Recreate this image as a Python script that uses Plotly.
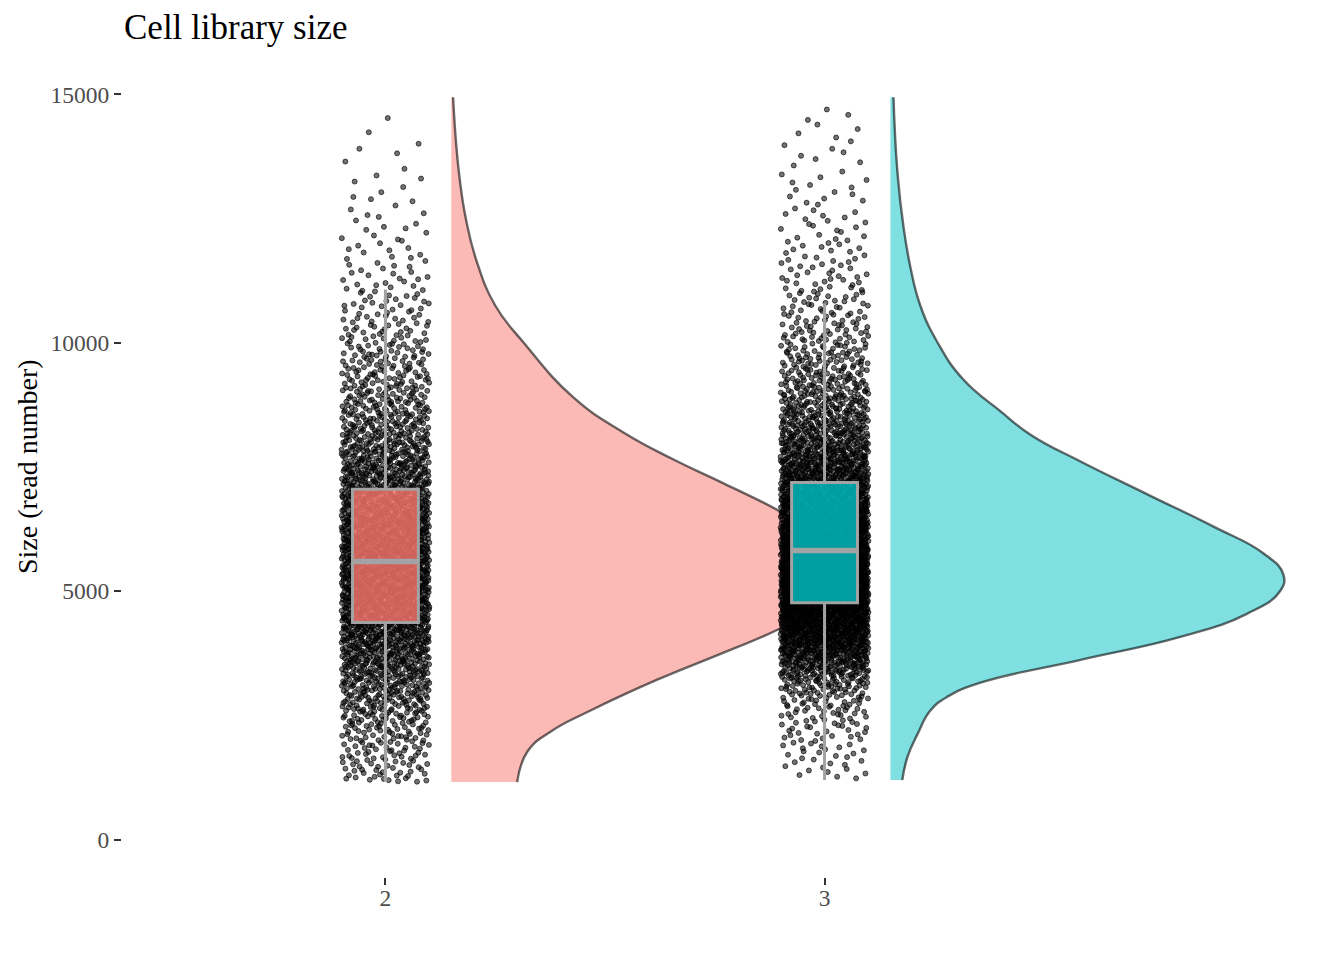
import numpy as np
import plotly.graph_objects as go

# ---------------- data ----------------
groups = ["2", "3"]
group_pos = [2, 3]
fill_rgb = [(248, 118, 109), (0, 191, 196)]
n_cells = [2600, 3900]

# half-violin outline: read-number value and half-width (x units)
g2_dens_y = [1160, 1770, 2175, 2600, 3220, 3765, 4250, 4800, 5400, 6000, 6605,
             7170, 7650, 8195, 8900, 10000, 10750, 11660, 12500, 13300, 14000, 14940]
g2_dens_w = [0.150, 0.173, 0.226, 0.317, 0.469, 0.620, 0.749, 0.860, 0.890, 0.860, 0.749,
             0.620, 0.506, 0.392, 0.278, 0.165, 0.100, 0.057, 0.033, 0.019, 0.011, 0.004]

g3_dens_y = [1200, 1670, 2130, 2600, 2880, 3160, 3620, 4080, 4550, 5010, 5335, 5760,
             6300, 6950, 7610, 8150, 8620, 9260, 10010, 10750, 11500, 12320, 13430, 14940]
g3_dens_w = [0.027, 0.039, 0.062, 0.091, 0.130, 0.205, 0.433, 0.660, 0.813, 0.888, 0.895, 0.850,
             0.736, 0.585, 0.433, 0.319, 0.251, 0.166, 0.107, 0.068, 0.046, 0.030, 0.016, 0.007]

# boxplot statistics
box_lower = [1160, 1200]
box_q1 = [4370, 4770]
box_median = [5600, 5820]
box_q3 = [7050, 7190]
box_upper = [11070, 10790]

y_ticks = [0, 5000, 10000, 15000]
dens_y = [g2_dens_y, g3_dens_y]
dens_w = [g2_dens_w, g3_dens_w]

SERIF = "Liberation Serif, Times New Roman, serif"
X_RANGE = [1.4, 4.158]
Y_RANGE = [-750, 15750]
BOX_W = 0.15
BOX_LINE = "#A3A3A3"


def vdc(k, base):
    """van der Corput sequence (deterministic, quasi-uniform)."""
    k = np.asarray(k, dtype=np.int64).copy()
    out = np.zeros(k.shape, dtype=float)
    denom = 1.0
    while np.any(k > 0):
        denom *= base
        out += (k % base) / denom
        k //= base
    return out


def cells_from_density(ys, ws, n):
    ys = np.asarray(ys, float)
    ws = np.asarray(ws, float)
    fine = np.linspace(ys[0], ys[-1], 3000)
    d = np.interp(fine, ys, ws)
    cdf = np.concatenate([[0.0], np.cumsum(0.5 * (d[1:] + d[:-1]) * np.diff(fine))])
    cdf /= cdf[-1]
    k = np.arange(1, n + 1)
    u = vdc(k, 2)
    return np.interp(u, cdf, fine), vdc(k, 3)


fig = go.Figure()

# half violins
for i in range(2):
    base = group_pos[i] + 0.15
    r, g, b = fill_rgb[i]
    fig.add_trace(go.Scatter(
        x=[base, base], y=[dens_y[i][0], dens_y[i][-1]], mode="lines",
        line=dict(width=0), hoverinfo="skip", showlegend=False))
    fig.add_trace(go.Scatter(
        x=[base + w for w in dens_w[i]], y=dens_y[i], mode="lines",
        line=dict(color="rgba(0,0,0,0.58)", width=2.4, shape="spline", smoothing=1.3),
        fill="tonextx", fillcolor=f"rgba({r},{g},{b},0.5)",
        hoverinfo="skip", showlegend=False))

# jittered cells
for i in range(2):
    yv, jv = cells_from_density(dens_y[i], dens_w[i], n_cells[i])
    xv = group_pos[i] + (jv * 2 - 1) * 0.1
    fig.add_trace(go.Scatter(
        x=xv, y=yv, mode="markers",
        marker=dict(size=5, color="rgba(0,0,0,0.55)",
                    line=dict(color="rgba(0,0,0,0.8)", width=0.8)),
        hoverinfo="skip", showlegend=False))

# boxes (on an overlaid copy of the axes so they sit above the cells)
for i in range(2):
    r, g, b = fill_rgb[i]
    fig.add_trace(go.Box(
        x=[group_pos[i]], q1=[box_q1[i]], median=[box_median[i]], q3=[box_q3[i]],
        lowerfence=[box_lower[i]], upperfence=[box_upper[i]],
        width=BOX_W, whiskerwidth=0, boxpoints=False,
        fillcolor=f"rgba({r},{g},{b},0.82)",
        line=dict(color=BOX_LINE, width=3),
        xaxis="x2", yaxis="y2",
        hoverinfo="skip", showlegend=False))
    # ggplot draws the median line twice as thick
    fig.add_trace(go.Scatter(
        x=[group_pos[i] - BOX_W / 2, group_pos[i] + BOX_W / 2],
        y=[box_median[i], box_median[i]], mode="lines",
        line=dict(color=BOX_LINE, width=5.5),
        xaxis="x2", yaxis="y2", hoverinfo="skip", showlegend=False))

# page body has an 8px margin, so the figure is shrunk by 8px
W, H = 1336, 952
ML, MR, MT, MB = 114, 11, 49, 83
panel_w = W - ML - MR
panel_h = H - MT - MB

tick_font = dict(family=SERIF, size=23.5, color="#4D4D4D")
fig.update_layout(
    width=W, height=H,
    margin=dict(l=ML, r=MR, t=MT, b=MB),
    paper_bgcolor="white", plot_bgcolor="white",
    boxmode="overlay",
    showlegend=False,
    xaxis=dict(range=X_RANGE, tickmode="array", tickvals=group_pos, ticktext=groups,
               ticks="outside", ticklen=7, tickwidth=2, tickcolor="#333333",
               ticklabelstandoff=-7,
               showgrid=False, zeroline=False, showline=False, automargin=False,
               tickfont=tick_font),
    yaxis=dict(range=Y_RANGE, tickmode="array", tickvals=y_ticks,
               ticktext=[str(v) for v in y_ticks],
               ticks="outside", ticklen=7, tickwidth=2, tickcolor="#333333",
               showgrid=False, zeroline=False, showline=False, automargin=False,
               tickfont=tick_font),
    xaxis2=dict(range=X_RANGE, overlaying="x", visible=False, automargin=False),
    yaxis2=dict(range=Y_RANGE, overlaying="y", visible=False, automargin=False),
    annotations=[
        dict(text="Cell library size", xref="paper", yref="paper",
             x=0, xanchor="left", y=1 + (MT - 20) / panel_h, yanchor="middle",
             showarrow=False, font=dict(family=SERIF, size=35, color="black")),
        dict(text="Size (read number)", xref="paper", yref="paper",
             x=(19 - ML) / panel_w, xanchor="center", y=0.5, yanchor="middle",
             textangle=-90, showarrow=False,
             font=dict(family=SERIF, size=28, color="black")),
    ],
)

fig.write_html("out.html")
